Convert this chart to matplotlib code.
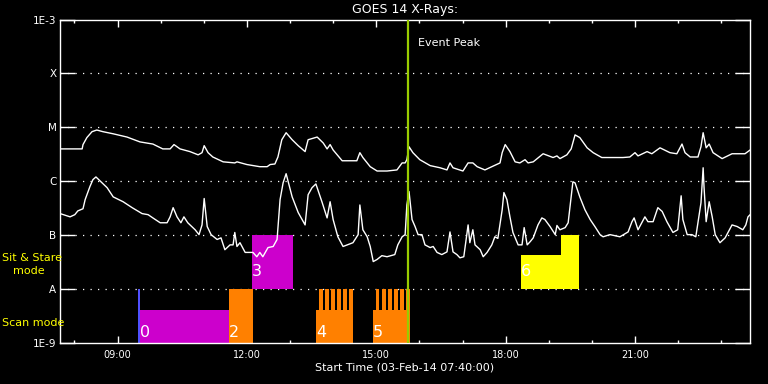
import numpy as np
import matplotlib
matplotlib.use("Agg")
import matplotlib.pyplot as plt
from matplotlib.ticker import NullLocator

# times are hours of 03-Feb-14, fluxes are log10(W/m^2)
long_t = [7.67, 8.18, 8.20, 8.29, 8.41, 8.52, 8.66, 8.90, 9.22, 9.52, 9.82, 10.05,
          10.22, 10.31, 10.45, 10.68, 10.87, 10.96, 11.01, 11.10, 11.21, 11.45, 11.72,
          11.77, 12.00, 12.30, 12.47, 12.54, 12.65, 12.72, 12.81, 12.91, 13.05, 13.19,
          13.35, 13.42, 13.63, 13.77, 13.86, 13.93, 14.00, 14.21, 14.39, 14.55, 14.62,
          14.69, 14.86, 15.02, 15.25, 15.48, 15.60, 15.67, 15.71, 15.76, 15.85, 16.01,
          16.25, 16.48, 16.64, 16.71, 16.78, 17.01, 17.13, 17.24, 17.34, 17.52, 17.68,
          17.87, 17.92, 17.99, 18.10, 18.22, 18.33, 18.45, 18.52, 18.64, 18.87, 19.10,
          19.19, 19.26, 19.42, 19.52, 19.61, 19.72, 19.89, 20.03, 20.23, 20.72, 20.88,
          21.00, 21.07, 21.28, 21.39, 21.58, 21.81, 21.97, 22.09, 22.16, 22.28, 22.46,
          22.53, 22.58, 22.65, 22.72, 22.81, 23.02, 23.25, 23.44, 23.55, 23.67]
long_v = [-5.40, -5.40, -5.32, -5.19, -5.08, -5.05, -5.08, -5.12, -5.18, -5.27, -5.31, -5.40,
          -5.40, -5.32, -5.40, -5.45, -5.51, -5.47, -5.34, -5.47, -5.55, -5.64, -5.66,
          -5.64, -5.69, -5.73, -5.73, -5.69, -5.68, -5.55, -5.23, -5.10, -5.23, -5.34,
          -5.45, -5.23, -5.18, -5.29, -5.40, -5.32, -5.42, -5.62, -5.62, -5.62, -5.47,
          -5.56, -5.73, -5.81, -5.81, -5.79, -5.66, -5.66, -5.60, -5.36, -5.47, -5.60,
          -5.71, -5.75, -5.79, -5.66, -5.75, -5.81, -5.66, -5.66, -5.73, -5.79, -5.73,
          -5.66, -5.47, -5.32, -5.45, -5.64, -5.66, -5.60, -5.66, -5.64, -5.49, -5.56,
          -5.53, -5.58, -5.51, -5.40, -5.14, -5.19, -5.38, -5.47, -5.56, -5.56, -5.55,
          -5.47, -5.53, -5.45, -5.49, -5.38, -5.47, -5.49, -5.31, -5.47, -5.55, -5.55,
          -5.36, -5.10, -5.38, -5.31, -5.47, -5.58, -5.49, -5.49, -5.49, -5.42]

short_t = [7.67, 7.90, 8.01, 8.08, 8.20, 8.25, 8.36, 8.43, 8.50, 8.59, 8.76, 8.90, 9.13,
           9.34, 9.57, 9.71, 9.82, 9.99, 10.15, 10.22, 10.29, 10.38, 10.47, 10.54, 10.63,
           10.80, 10.89, 10.96, 11.01, 11.08, 11.17, 11.31, 11.40, 11.49, 11.61, 11.68,
           11.72, 11.77, 11.84, 11.96, 12.14, 12.23, 12.30, 12.37, 12.49, 12.61, 12.70,
           12.77, 12.84, 12.91, 13.05, 13.19, 13.35, 13.42, 13.51, 13.60, 13.74, 13.86,
           13.93, 14.00, 14.11, 14.23, 14.46, 14.58, 14.62, 14.69, 14.79, 14.86, 14.93,
           15.02, 15.13, 15.25, 15.43, 15.50, 15.60, 15.67, 15.71, 15.76, 15.83, 15.90,
           15.97, 16.06, 16.13, 16.25, 16.32, 16.41, 16.52, 16.64, 16.71, 16.78, 16.87,
           16.94, 17.03, 17.13, 17.17, 17.24, 17.29, 17.41, 17.48, 17.57, 17.68, 17.75,
           17.82, 17.92, 17.96, 18.03, 18.10, 18.17, 18.29, 18.38, 18.43, 18.50, 18.57,
           18.64, 18.75, 18.84, 18.91, 19.03, 19.15, 19.19, 19.26, 19.38, 19.45, 19.52,
           19.56, 19.61, 19.72, 19.84, 19.96, 20.07, 20.19, 20.26, 20.42, 20.65, 20.84,
           20.93, 20.98, 21.07, 21.23, 21.30, 21.42, 21.53, 21.63, 21.74, 21.88, 21.99,
           22.07, 22.11, 22.21, 22.32, 22.41, 22.46, 22.53, 22.58, 22.60, 22.65, 22.72,
           22.79, 22.86, 22.97, 23.09, 23.25, 23.37, 23.50, 23.57, 23.62, 23.67]
short_v = [-6.60, -6.66, -6.62, -6.55, -6.51, -6.34, -6.10, -5.97, -5.92, -5.99, -6.12, -6.29, -6.38,
           -6.49, -6.60, -6.62, -6.68, -6.77, -6.77, -6.66, -6.49, -6.66, -6.77, -6.66, -6.77,
           -6.90, -6.99, -6.81, -6.32, -6.84, -6.99, -7.08, -7.05, -7.27, -7.18, -7.18,
           -6.95, -7.21, -7.14, -7.32, -7.32, -7.40, -7.32, -7.40, -7.23, -7.21, -7.08,
           -6.34, -6.03, -5.86, -6.29, -6.58, -6.81, -6.25, -6.12, -6.05, -6.38, -6.68,
           -6.38, -6.71, -7.03, -7.21, -7.14, -6.99, -6.44, -6.90, -7.03, -7.21, -7.49,
           -7.45, -7.38, -7.40, -7.36, -7.18, -7.03, -6.99, -6.44, -6.19, -6.71, -6.84,
           -6.99, -6.99, -7.18, -7.23, -7.21, -7.32, -7.36, -7.31, -6.94, -7.31, -7.36,
           -7.42, -7.40, -6.81, -7.14, -6.90, -7.18, -7.27, -7.40, -7.32, -7.18, -7.03,
           -7.06, -6.53, -6.21, -6.34, -6.66, -6.95, -7.18, -7.18, -6.86, -7.18, -7.12,
           -7.05, -6.81, -6.68, -6.71, -6.84, -6.99, -6.82, -6.90, -6.86, -6.77, -6.29,
           -6.01, -6.03, -6.29, -6.53, -6.71, -6.84, -6.99, -7.03, -6.99, -7.03, -6.94,
           -6.75, -6.68, -6.90, -6.66, -6.75, -6.75, -6.49, -6.56, -6.75, -6.95, -6.90,
           -6.27, -6.71, -6.99, -6.99, -7.03, -6.77, -6.40, -5.75, -6.10, -6.75, -6.38,
           -6.66, -6.99, -7.14, -7.05, -6.81, -6.84, -6.90, -6.81, -6.66, -6.62]

# observing blocks: start, end (hours), low, high (log flux), colour, label
blk_start = [9.48, 9.52, 11.59, 12.12, 13.60, 14.93, 18.36, 19.28]
blk_end = [9.52, 11.59, 12.14, 13.08, 14.46, 15.72, 19.28, 19.70]
blk_low = [-9, -9, -9, -8, -9, -9, -8, -8]
blk_high = [-8, -8.38, -8, -7, -8.38, -8.38, -7.37, -7]
blk_color = ["#5050ff", "#cc00cc", "#ff8000", "#cc00cc", "#ff8000", "#ff8000", "#ffff00", "#ffff00"]

stripe_start = [13.67, 13.81, 13.95, 14.09, 14.23, 14.37,
                14.99, 15.13, 15.27, 15.41, 15.55, 15.69]
stripe_width = 0.085

lab_text = ["0", "2", "3", "4", "5", "6"]
lab_t = [9.52, 11.59, 12.12, 13.60, 14.93, 18.36]
lab_v = [-8.81, -8.81, -7.68, -8.81, -8.81, -7.68]

peak_t = 15.74

fig = plt.figure(figsize=(7.68, 3.84), dpi=100)
fig.patch.set_facecolor("black")
ax = fig.add_axes([60 / 768, 41 / 384, 690 / 768, 323.5 / 384])
ax.set_facecolor("black")

for s, e, lo, hi, c in zip(blk_start, blk_end, blk_low, blk_high, blk_color):
    ax.bar(s, 10.0 ** hi - 10.0 ** lo, width=e - s, bottom=10.0 ** lo,
           align="edge", color=c, linewidth=0, zorder=2)
for s in stripe_start:
    ax.bar(s, 1e-8 - 1e-9, width=stripe_width, bottom=1e-9,
           align="edge", color="#ff8000", linewidth=0, zorder=2)
for t, x, v in zip(lab_text, lab_t, lab_v):
    ax.text(x, 10.0 ** v, t, color="white", fontsize=11.5, ha="left",
            va="center", zorder=4)

for lvl in [1e-8, 1e-7, 1e-6, 1e-5, 1e-4]:
    ax.axhline(lvl, color="white", lw=0.9, ls=(0, (1, 5)), zorder=1)

ax.semilogy(long_t, 10.0 ** np.array(long_v), color="white", lw=1.0, zorder=3)
ax.semilogy(short_t, 10.0 ** np.array(short_v), color="white", lw=1.0, zorder=3)

ax.axvline(peak_t, color="#99cc00", lw=1.6, zorder=5)
ax.text(15.97, 10.0 ** -3.435, "Event Peak", color="white", fontsize=8,
        ha="left", va="center")

ax.set_xlim(7 + 40 / 60, 23 + 40 / 60)
ax.set_ylim(1e-9, 1e-3)
ax.set_yticks([1e-9, 1e-8, 1e-7, 1e-6, 1e-5, 1e-4, 1e-3])
ax.set_yticklabels(["1E-9", "A", "B", "C", "M", "X", "1E-3"])
ax.yaxis.set_minor_locator(NullLocator())
ax.set_xticks([9, 12, 15, 18, 21])
ax.set_xticklabels(["09:00", "12:00", "15:00", "18:00", "21:00"])
ax.set_xticks(range(8, 24), minor=True)

ax.tick_params(axis="y", which="major", direction="in", length=10.5, width=1,
               right=True, colors="white", labelsize=7.5, pad=2.5)
ax.tick_params(axis="x", which="major", direction="in", length=5, width=1,
               top=True, colors="white", labelsize=7, pad=5)
ax.tick_params(axis="x", which="minor", direction="in", length=2.5, width=1,
               top=True, colors="white")
for sp in ax.spines.values():
    sp.set_color("white")
    sp.set_linewidth(1.0)

fig.text(405 / 768, 1 - 9.5 / 384, "GOES 14 X-Rays:", color="white",
         fontsize=9, ha="center", va="center")
fig.text(405 / 768, 1 - 368 / 384, "Start Time (03-Feb-14 07:40:00)",
         color="white", fontsize=8, ha="center", va="center")
fig.text(2 / 768, 1 - 258 / 384, "Sit & Stare", color="#ffff00",
         fontsize=8, ha="left", va="center")
fig.text(13 / 768, 1 - 271 / 384, "mode", color="#ffff00",
         fontsize=8, ha="left", va="center")
fig.text(2 / 768, 1 - 323 / 384, "Scan mode", color="#ffff00",
         fontsize=8, ha="left", va="center")

fig.savefig("out.png", dpi=100, facecolor="black")
